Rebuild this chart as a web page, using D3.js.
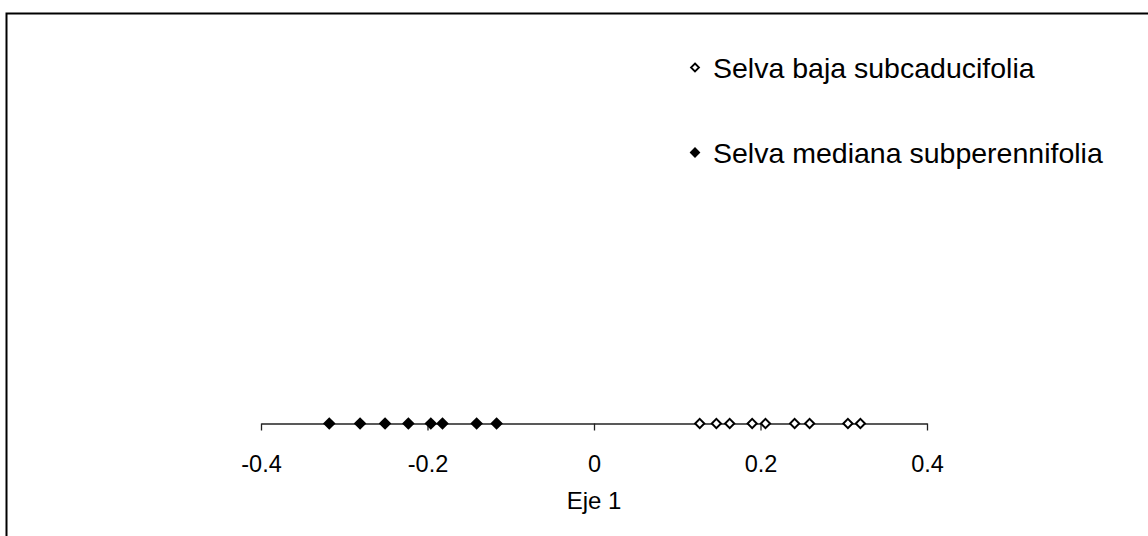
<!DOCTYPE html>
<html>
<head>
<meta charset="utf-8">
<script src="https://cdn.jsdelivr.net/npm/d3@7"></script>
<style>
  html, body { margin: 0; padding: 0; background: #fff; }
  svg { display: block; font-family: "Liberation Sans", Arial, sans-serif; }
</style>
</head>
<body>
<svg id="chart" width="1148" height="536"></svg>
<script>
// Ordination scores on the first axis, one array per vegetation type
const seriesNames = ["Selva baja subcaducifolia", "Selva mediana subperennifolia"];
const bajaScores = [0.127, 0.147, 0.163, 0.190, 0.206, 0.241, 0.259, 0.305, 0.320];
const medianaScores = [-0.318, -0.281, -0.251, -0.223, -0.196, -0.182, -0.141, -0.117];
const tickValues = [-0.4, -0.2, 0, 0.2, 0.4];
const axisTitle = "Eje 1";

const svg = d3.select("#chart");
const W = 1148, H = 536;

// outer frame (right and bottom edges run off the canvas)
svg.append("rect")
  .attr("x", 6.5).attr("y", 13.5)
  .attr("width", W + 10).attr("height", H + 10)
  .attr("fill", "none").attr("stroke", "#000").attr("stroke-width", 2);

const x = d3.scaleLinear().domain([-0.4, 0.4]).range([261, 927]);
const axisY = 423.5;

// square rotated 45 degrees
const diamond = {
  draw(ctx, size) {
    const r = Math.sqrt(size / 2);
    ctx.moveTo(0, -r);
    ctx.lineTo(r, 0);
    ctx.lineTo(0, r);
    ctx.lineTo(-r, 0);
    ctx.closePath();
  }
};

const axis = d3.axisBottom(x)
  .tickValues(tickValues)
  .tickSize(7)
  .tickSizeOuter(0)
  .tickPadding(0)
  .tickFormat(d => String(d));

const gAxis = svg.append("g")
  .attr("transform", `translate(0,${axisY})`)
  .call(axis);
gAxis.select(".domain").attr("stroke", "#222").attr("stroke-width", 1.3);
gAxis.selectAll(".tick line").attr("stroke", "#222").attr("stroke-width", 1.3);
gAxis.selectAll(".tick text")
  .attr("y", 48.5).attr("dy", null)
  .attr("fill", "#000")
  .style("font-size", "23.5px")
  .style("font-family", "'Liberation Sans', Arial, sans-serif");

svg.append("text")
  .attr("x", x(0)).attr("y", 508.5)
  .attr("text-anchor", "middle")
  .style("font-size", "24px")
  .text(axisTitle);

const sym = d3.symbol().type(diamond);

svg.append("g").selectAll("path")
  .data(bajaScores).join("path")
  .attr("transform", d => `translate(${x(d)},${axisY})`)
  .attr("d", sym.size(2 * 4.6 * 4.6)())
  .attr("fill", "#fff").attr("stroke", "#000").attr("stroke-width", 2);

svg.append("g").selectAll("path")
  .data(medianaScores).join("path")
  .attr("transform", d => `translate(${x(d)},${axisY})`)
  .attr("d", sym.size(2 * 6.3 * 6.3)())
  .attr("fill", "#000");

// legend
const legend = svg.append("g");
const legendRows = [
  { name: seriesNames[0], y: 67.5, filled: false },
  { name: seriesNames[1], y: 152.5, filled: true }
];
legendRows.forEach(row => {
  legend.append("path")
    .attr("transform", `translate(695,${row.y})`)
    .attr("d", d3.symbol().type(diamond).size(row.filled ? 2 * 5.4 * 5.4 : 2 * 4 * 4)())
    .attr("fill", row.filled ? "#000" : "#fff")
    .attr("stroke", row.filled ? "none" : "#000")
    .attr("stroke-width", 1.8);
  legend.append("text")
    .attr("x", 713).attr("y", row.y + 10.5)
    .style("font-size", "28.5px")
    .text(row.name);
});
</script>
</body>
</html>
